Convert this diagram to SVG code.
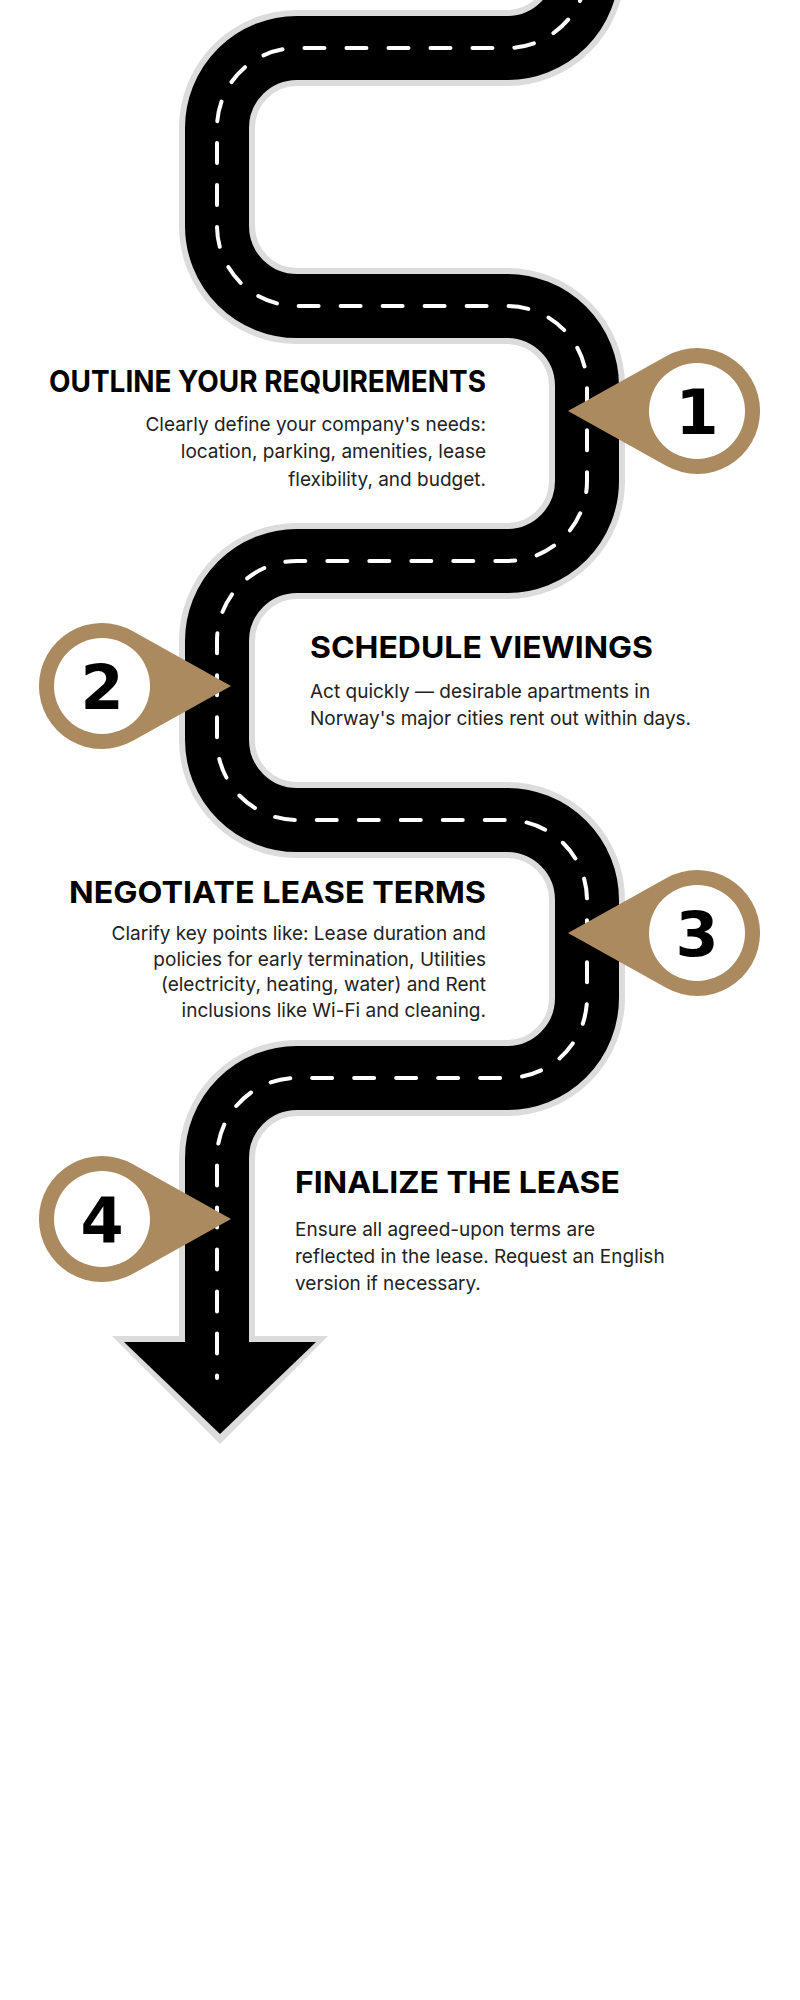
<svg xmlns="http://www.w3.org/2000/svg" width="800" height="2000" viewBox="0 0 800 2000">
<style>
.title{font-family:Inter,"Liberation Sans",sans-serif;font-weight:700;font-size:30px;fill:#000}
.body{font-family:Inter,"Liberation Sans",sans-serif;font-weight:400;font-size:19px;fill:#222}
.num{font-family:"DejaVu Sans",sans-serif;font-weight:900;font-size:62px;fill:#000;text-anchor:middle}
.r{text-anchor:end}
</style>
<defs>
<path id="pin" d="M -129 0 L -30.5 -55.1 A 63 63 0 1 1 -30.5 55.1 Z" fill="#ab8a5f"/>
</defs>
<rect width="800" height="2000" fill="#fff"/>
<g id="road">
<path id="roadpath" d="M 587 -60 L 587 -32 A 80 80 0 0 1 507 48 L 297 48 A 80 80 0 0 0 217 128 L 217 226 A 80 80 0 0 0 297 306 L 507 306 A 80 80 0 0 1 587 386 L 587 481 A 80 80 0 0 1 507 561 L 297 561 A 80 80 0 0 0 217 641 L 217 740 A 80 80 0 0 0 297 820 L 507 820 A 80 80 0 0 1 587 900 L 587 998 A 80 80 0 0 1 507 1078 L 297 1078 A 80 80 0 0 0 217 1158 L 217 1345" fill="none" stroke="#dcdcdc" stroke-width="76"/>
<polygon points="112,1336 328,1336 220,1444" fill="#dcdcdc"/>
<path d="M 587 -60 L 587 -32 A 80 80 0 0 1 507 48 L 297 48 A 80 80 0 0 0 217 128 L 217 226 A 80 80 0 0 0 297 306 L 507 306 A 80 80 0 0 1 587 386 L 587 481 A 80 80 0 0 1 507 561 L 297 561 A 80 80 0 0 0 217 641 L 217 740 A 80 80 0 0 0 297 820 L 507 820 A 80 80 0 0 1 587 900 L 587 998 A 80 80 0 0 1 507 1078 L 297 1078 A 80 80 0 0 0 217 1158 L 217 1345" fill="none" stroke="#000" stroke-width="64"/>
<polygon points="124,1342 316,1342 220,1434" fill="#000"/>
<path d="M 587 -60 L 587 -32 A 80 80 0 0 1 507 48 L 297 48 A 80 80 0 0 0 217 128 L 217 226 A 80 80 0 0 0 297 306 L 507 306 A 80 80 0 0 1 587 386 L 587 481 A 80 80 0 0 1 507 561 L 297 561 A 80 80 0 0 0 217 641 L 217 740 A 80 80 0 0 0 297 820 L 507 820 A 80 80 0 0 1 587 900 L 587 998 A 80 80 0 0 1 507 1078 L 297 1078 A 80 80 0 0 0 217 1158 L 217 1378" fill="none" stroke="#fff" stroke-width="4" stroke-linecap="round" stroke-dasharray="20 22"/>
</g>
<g id="step1">
<use href="#pin" transform="translate(697,411)"/>
<circle cx="697" cy="411" r="48" fill="#fff"/>
<text class="num" x="697" y="434">1</text>
<text class="title r" x="486" y="392" textLength="437" lengthAdjust="spacingAndGlyphs">OUTLINE YOUR REQUIREMENTS</text>
<text class="body r" x="486" y="431">Clearly define your company's needs:</text>
<text class="body r" x="486" y="458">location, parking, amenities, lease</text>
<text class="body r" x="486" y="486">flexibility, and budget.</text>
</g>
<g id="step2">
<use href="#pin" transform="translate(102,686) rotate(180)"/>
<circle cx="102" cy="686" r="48" fill="#fff"/>
<text class="num" x="102" y="709">2</text>
<text class="title" x="310" y="658" textLength="343" lengthAdjust="spacingAndGlyphs">SCHEDULE VIEWINGS</text>
<text class="body" x="310" y="698">Act quickly — desirable apartments in</text>
<text class="body" x="310" y="725">Norway's major cities rent out within days.</text>
</g>
<g id="step3">
<use href="#pin" transform="translate(697,933)"/>
<circle cx="697" cy="933" r="48" fill="#fff"/>
<text class="num" x="697" y="956">3</text>
<text class="title r" x="486" y="903" textLength="417" lengthAdjust="spacingAndGlyphs">NEGOTIATE LEASE TERMS</text>
<text class="body r" x="486" y="940">Clarify key points like: Lease duration and</text>
<text class="body r" x="486" y="966">policies for early termination, Utilities</text>
<text class="body r" x="486" y="991">(electricity, heating, water) and Rent</text>
<text class="body r" x="486" y="1017">inclusions like Wi-Fi and cleaning.</text>
</g>
<g id="step4">
<use href="#pin" transform="translate(102,1219) rotate(180)"/>
<circle cx="102" cy="1219" r="48" fill="#fff"/>
<text class="num" x="102" y="1242">4</text>
<text class="title" x="295" y="1193" textLength="325" lengthAdjust="spacingAndGlyphs">FINALIZE THE LEASE</text>
<text class="body" x="295" y="1236">Ensure all agreed-upon terms are</text>
<text class="body" x="295" y="1263">reflected in the lease. Request an English</text>
<text class="body" x="295" y="1290">version if necessary.</text>
</g>
</svg>
